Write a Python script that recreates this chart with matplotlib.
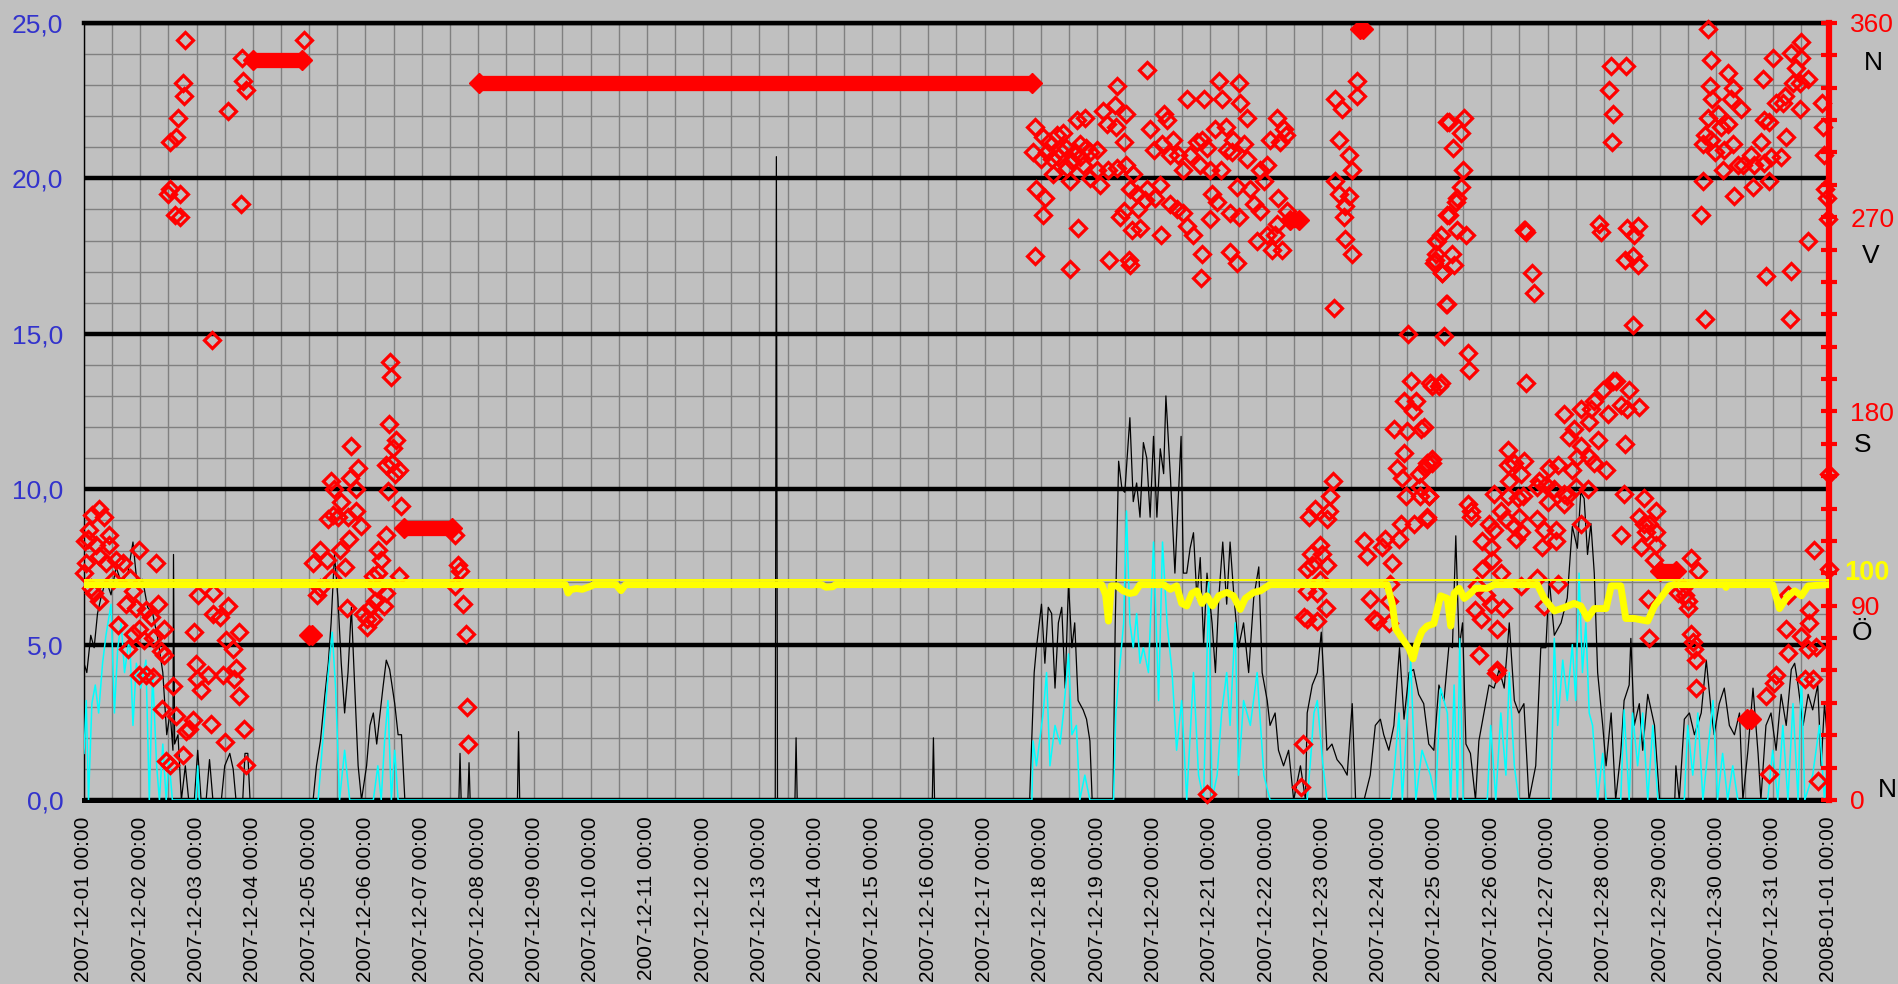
import matplotlib
matplotlib.use('Agg')
import matplotlib.pyplot as plt
from matplotlib.ticker import MultipleLocator, FixedLocator, FuncFormatter
from datetime import datetime, timedelta

plt.rcParams['font.family'] = ['Liberation Sans', 'DejaVu Sans']

# x = days since 2007-12-01 00:00
start = datetime(2007, 12, 1)
date_labels = [(start + timedelta(days=d)).strftime('%Y-%m-%d %H:%M') for d in range(32)]

# gust (m/s), left axis
gust = [(0.00,4.4),(0.05,4.1),(0.12,5.3),(0.18,4.9),(0.24,6.0),(0.30,6.5),(0.39,7.1),(0.48,6.6),
        (0.57,7.5),(0.66,7.0),(0.78,7.3),(0.87,8.3),(0.95,6.8),(1.04,7.1),(1.13,6.2),(1.22,6.0),
        (1.31,5.2),(1.40,4.1),(1.47,2.1),(1.53,2.8),(1.58,1.6),(1.59,7.9),(1.61,1.8),(1.67,2.1),
        (1.73,0),(1.80,1.1),(1.86,0),(1.96,0),(2.02,1.6),(2.08,0),(2.17,0),(2.23,1.3),(2.29,0),
        (2.44,0),(2.50,1.1),(2.59,1.5),(2.65,1.0),(2.70,0),(2.82,0),(2.86,1.5),(2.91,1.5),(2.95,0),
        (4.07,0),(4.13,1.1),(4.20,1.9),(4.28,3.4),(4.34,4.4),(4.39,5.7),(4.45,7.9),(4.51,6.5),
        (4.57,4.4),(4.63,2.8),(4.69,4.1),(4.75,6.2),(4.81,3.6),(4.87,1.1),(4.93,0),(5.02,1.1),
        (5.08,2.4),(5.14,2.8),(5.20,1.8),(5.26,2.8),(5.31,3.6),(5.37,4.5),(5.43,4.2),(5.52,3.1),
        (5.58,2.1),(5.64,2.1),(5.70,0),(6.66,0),(6.68,1.5),(6.70,0),(6.82,0),(6.84,1.2),(6.86,0),
        (7.70,0),(7.72,2.2),(7.74,0),(12.28,0),(12.30,20.7),(12.32,0),(12.63,0),(12.65,2.0),(12.67,0),
        (15.07,0),(15.09,2.0),(15.11,0),(16.80,0),(16.83,1.6),(16.88,4.1),(16.92,4.9),(17.01,6.3),
        (17.07,4.4),(17.13,6.2),(17.19,6.0),(17.25,3.6),(17.31,5.7),(17.37,6.2),(17.43,3.6),(17.49,7.0),
        (17.55,4.9),(17.60,5.7),(17.66,3.2),(17.75,2.9),(17.81,2.6),(17.87,1.9),(17.91,0),(18.28,0),
        (18.32,5.7),(18.38,10.9),(18.44,10.0),(18.49,9.9),(18.58,12.3),(18.64,9.6),(18.70,10.2),
        (18.76,9.1),(18.82,11.5),(18.88,11.0),(18.94,9.1),(19.00,11.7),(19.06,9.1),(19.12,11.3),
        (19.18,10.5),(19.22,13.0),(19.30,10.4),(19.38,7.3),(19.44,9.7),(19.49,11.7),(19.53,7.3),
        (19.59,7.3),(19.65,8.1),(19.71,8.6),(19.77,6.5),(19.83,7.8),(19.89,5.0),(19.95,7.3),
        (20.04,5.7),(20.10,4.1),(20.16,6.5),(20.23,8.3),(20.30,6.3),(20.36,8.3),(20.43,6.5),
        (20.51,4.9),(20.60,5.7),(20.69,4.1),(20.78,6.5),(20.87,7.5),(20.93,4.1),(21.02,3.2),
        (21.07,2.4),(21.16,2.8),(21.22,1.6),(21.31,1.1),(21.40,1.6),(21.49,0),(21.61,1.1),(21.70,0),
        (21.73,2.8),(21.82,3.7),(21.91,4.1),(21.98,5.4),(22.02,4.1),(22.08,1.6),(22.17,1.8),
        (22.26,1.3),(22.35,1.1),(22.44,0.8),(22.53,3.1),(22.59,0),(22.74,0),(22.85,0.8),(22.94,2.4),
        (23.03,2.6),(23.09,2.1),(23.18,1.6),(23.27,2.4),(23.37,4.9),(23.45,2.6),(23.54,4.1),
        (23.62,4.2),(23.71,3.4),(23.80,3.1),(23.89,1.8),(23.98,1.6),(24.07,3.7),(24.16,3.2),
        (24.25,5.0),(24.31,4.9),(24.37,8.5),(24.43,4.9),(24.49,5.7),(24.55,1.8),(24.63,1.5),
        (24.72,0),(24.78,1.9),(24.87,2.8),(24.96,3.7),(25.05,3.6),(25.14,4.2),(25.23,3.6),
        (25.32,5.7),(25.41,3.2),(25.49,2.8),(25.58,3.1),(25.67,0),(25.79,1.1),(25.88,4.9),
        (25.97,4.9),(26.03,7.1),(26.12,5.3),(26.24,5.7),(26.35,6.5),(26.44,8.8),(26.53,8.1),
        (26.59,9.9),(26.65,9.7),(26.71,7.9),(26.77,8.9),(26.83,7.3),(26.89,4.1),(26.98,2.4),
        (27.04,1.1),(27.13,2.8),(27.21,0),(27.30,1.5),(27.36,3.2),(27.45,3.7),(27.48,5.2),
        (27.54,2.4),(27.63,3.1),(27.69,1.6),(27.78,3.4),(27.90,2.4),(27.99,0),(28.26,0),(28.28,1.1),
        (28.34,0),(28.43,2.6),(28.52,2.8),(28.61,2.1),(28.73,2.8),(28.82,4.5),(28.91,2.8),
        (28.96,2.1),(29.05,3.1),(29.14,3.6),(29.23,2.4),(29.32,2.1),(29.41,2.8),(29.47,0),
        (29.56,1.6),(29.65,3.6),(29.74,1.5),(29.79,0),(29.88,2.4),(29.97,2.8),(30.06,1.6),
        (30.15,3.4),(30.24,2.4),(30.33,4.2),(30.39,4.4),(30.45,3.7),(30.54,2.4),(30.63,3.4),
        (30.71,2.9),(30.80,3.7),(30.86,1.1),(30.92,3.1),(30.98,1.8)]

# mean wind (m/s), left axis
mean_wind = [(0.00,1.5),(0.04,3.2),(0.08,0),(0.14,3.1),(0.20,3.7),(0.26,2.8),(0.33,4.4),(0.39,5.3),
        (0.48,6.3),(0.54,2.8),(0.60,4.9),(0.66,5.7),(0.72,4.1),(0.81,5.3),(0.87,2.4),(0.93,4.4),
        (1.01,3.6),(1.10,4.5),(1.16,0),(1.22,4.1),(1.29,1.1),(1.34,0),(1.40,1.8),(1.46,0),(1.51,1.3),
        (1.57,0),(1.99,0),(2.02,1.1),(2.05,0),(4.16,0),(4.25,2.1),(4.34,4.1),(4.41,5.4),(4.47,3.6),
        (4.54,0),(4.63,1.6),(4.72,0),(5.14,0),(5.22,1.1),(5.28,0),(5.34,1.9),(5.40,3.2),(5.46,0),
        (5.52,1.6),(5.58,0),(16.84,0),(16.86,1.9),(16.92,1.1),(17.04,2.8),(17.10,4.1),(17.16,1.1),
        (17.25,2.4),(17.34,1.8),(17.40,2.8),(17.49,4.7),(17.55,2.1),(17.63,2.4),(17.69,0),(17.78,0.8),
        (17.87,0),(18.29,0),(18.33,2.8),(18.39,4.1),(18.47,5.7),(18.52,9.3),(18.58,5.7),(18.64,4.9),
        (18.70,6.0),(18.76,4.4),(18.82,4.9),(18.91,4.1),(19.00,8.3),(19.09,3.2),(19.16,8.3),
        (19.24,5.7),(19.33,4.1),(19.41,1.6),(19.50,3.2),(19.59,0),(19.71,4.1),(19.80,0.8),(19.89,0),
        (19.98,7.0),(20.04,0),(20.13,0.8),(20.21,2.8),(20.30,4.1),(20.36,2.4),(20.45,5.7),(20.51,0.8),
        (20.60,3.2),(20.72,2.4),(20.84,4.1),(20.96,0.8),(21.07,0),(21.73,0),(21.79,1.3),(21.85,2.8),
        (21.91,3.2),(22.00,1.3),(22.08,0),(23.22,0),(23.27,0.8),(23.36,2.8),(23.42,0),(23.57,4.5),
        (23.66,0),(23.77,1.6),(23.92,0.8),(24.01,0),(24.10,3.6),(24.22,2.8),(24.28,0),(24.34,3.7),
        (24.40,0),(24.44,5.2),(24.50,0),(24.93,0),(24.99,2.4),(25.08,0),(25.17,2.8),(25.26,0.8),
        (25.32,4.1),(25.41,1.1),(25.49,0),(26.06,0),(26.12,5.2),(26.18,2.4),(26.27,4.5),(26.35,3.2),
        (26.44,5.0),(26.50,3.2),(26.56,7.3),(26.62,4.1),(26.68,5.7),(26.74,2.8),(26.80,2.4),(26.89,0),
        (26.98,1.5),(27.04,0),(27.30,0),(27.36,2.9),(27.45,0),(27.51,2.8),(27.60,1.1),(27.69,2.8),
        (27.78,0),(27.87,2.4),(27.96,0),(28.43,0),(28.49,2.4),(28.58,0.8),(28.67,2.8),(28.76,0),
        (28.85,1.6),(28.94,3.2),(29.02,0),(29.11,1.5),(29.20,0),(29.29,1.1),(29.38,0),(29.91,0),
        (30.00,1.6),(30.09,0),(30.18,2.4),(30.27,0),(30.36,3.1),(30.45,0),(30.51,4.1),(30.57,0),
        (30.71,0.8),(30.83,2.4),(30.92,0),(30.98,1.6)]

# humidity, plotted on the right (0-360) scale
humidity = [(0,99.8),(8.55,99.8),(8.60,95.9),(8.65,97.5),(8.75,98.0),(8.85,97.6),(9.0,99.0),(9.06,99.8),
        (9.45,99.8),(9.54,97.0),(9.62,99.8),(13.10,99.8),(13.18,98.6),(13.30,98.8),(13.35,99.8),
        (18.08,99.8),(18.15,95),(18.20,82.9),(18.25,99.2),(18.35,99.2),(18.46,96.9),(18.58,95.7),
        (18.67,96.2),(18.76,99.8),(19.18,99.8),(19.30,97.6),(19.41,99.2),(19.50,91.1),(19.59,89.9),
        (19.68,95.7),(19.77,96.9),(19.86,91.1),(19.95,94.6),(20.05,89.9),(20.16,94.6),(20.30,96.2),
        (20.42,94.6),(20.54,88.3),(20.63,93.4),(20.78,96.2),(20.90,96.9),(20.99,98.5),(21.07,99.8),
        (23.15,99.8),(23.24,91.1),(23.30,79.4),(23.42,74.7),(23.54,70.1),(23.61,65.4),(23.68,72.4),
        (23.77,78.2),(23.86,80.6),(23.98,81.7),(24.10,94.6),(24.22,93.4),(24.28,80.6),(24.34,95.7),
        (24.43,98.1),(24.52,93.4),(24.63,95.7),(24.72,98.1),(24.93,98.1),(25.05,99.8),(25.82,99.8),
        (25.94,93.4),(26.12,87.6),(26.30,89.2),(26.47,91.1),(26.59,89.9),(26.71,84.1),(26.83,88.7),
        (27.04,88.7),(27.13,99.2),(27.30,99.2),(27.39,84.1),(27.54,84.1),(27.78,82.9),(27.90,89.9),
        (28.07,95.7),(28.16,99.2),(28.25,99.8),(29.15,99.8),(29.17,98.5),(29.20,99.8),(30.0,99.8),
        (30.12,88.7),(30.27,94.6),(30.39,96.9),(30.51,94.6),(30.63,99.2),(31.0,99.8)]
humidity_ref = 101.8

# wind direction (degrees), right axis
direction = [
    (0.07,121),(0.27,135),(0.15,132),(0.36,131),(0.08,125),(0.45,123),(0.02,120),(0.21,118),(0.45,118),
    (0.04,110),(0.27,113),(0.39,110),(0.57,111),(0.69,110),(0.98,116),(1.28,110),(0.0,105),(0.12,98),
    (0.18,96),(0.27,92),(0.51,102),(0.81,103),(0.87,97),(0.75,91),(0.93,89),(1.10,88),(1.32,91),
    (1.19,85),(0.98,79),(0.87,77),(0.60,81),(0.78,70),(1.07,74),(1.22,75),(1.43,79),(1.37,69),
    (1.43,67),(0.98,58),(1.10,58),(1.22,57),(1.58,53),(1.39,42),(1.64,39),(1.76,21),(1.46,18),
    (1.52,16),(2.02,95),(2.29,96),(1.96,78),(1.99,63),(2.0,56),(2.08,51),(2.20,58),(2.26,35),
    (1.93,37),(1.81,32),(1.87,33),(2.29,86),(2.41,85),(2.56,90),(2.53,74),(2.65,70),(2.76,78),
    (2.70,61),(2.47,58),(2.67,56),(2.76,48),(2.50,27),(2.85,33),(2.88,16),
    (1.79,352),(1.76,332),(1.77,326),(1.67,316),(1.64,307),(1.52,305),(1.49,281),(1.53,283),
    (1.71,281),(1.61,271),(1.70,270),(2.27,213),(2.56,319),(2.81,344),(2.82,333),(2.88,329),
    (2.79,276),(3.91,352),
    (5.43,203),(5.46,196),(5.42,174),(5.54,167),(5.49,163),(5.36,155),(5.48,156),(5.60,153),
    (5.52,151),(5.40,143),(5.63,136),(5.36,123),(5.60,104),(5.23,116),(5.28,111),(5.22,105),
    (5.14,104),(5.21,98),(5.36,96),(5.33,90),(5.17,92),(5.08,89),(4.96,86),(5.02,84),(5.14,84),
    (5.03,80),(4.75,164),(4.86,154),(4.72,149),(4.38,148),(4.45,144),(4.84,144),(4.57,138),
    (4.83,134),(4.42,132),(4.34,130),(4.51,131),(4.69,131),(4.92,127),(4.71,121),(4.54,116),
    (4.19,116),(4.07,110),(4.31,111),(4.63,108),(4.68,89),(4.14,95),(4.19,98),(4.40,103),
    (6.59,123),(6.65,109),(6.68,106),(6.59,99),(6.73,91),(6.78,77),(6.80,43),(6.83,26),
    (16.89,312),(17.04,307),(16.86,300),(17.01,297),(16.92,283),(17.07,279),(17.04,271),(16.89,252),
    (17.28,308),(17.40,309),(17.34,301),(17.19,297),(17.46,293),(17.22,290),(17.52,287),(17.64,315),
    (17.78,316),(17.69,304),(17.87,300),(17.75,294),(17.99,301),(18.11,319),(18.32,322),(18.36,331),
    (18.17,313),(18.34,312),(18.20,292),(18.35,293),(18.52,318),(18.47,305),(18.52,294),(18.05,285),
    (17.99,292),(17.87,288),(18.64,290),(18.58,283),(18.47,273),(18.41,270),(18.61,264),(18.76,265),
    (17.66,265),(17.52,246),(18.21,250),(18.57,250),(18.58,248),(18.88,338),(18.94,311),(18.88,283),
    (18.73,274),(18.70,281),(18.85,278),(19.03,279),(19.00,301),(19.18,318),(19.24,315),(19.15,304),
    (19.30,299),(19.35,306),(19.44,299),(19.53,292),(19.12,285),(19.30,276),(19.42,274),(19.13,262),
    (19.59,325),(19.53,272),(19.59,266),(19.71,262),(19.65,299),(19.77,305),(19.89,325),(19.86,306),
    (19.95,302),(19.83,294),(20.01,292),(20.10,311),(20.16,333),(20.22,325),(20.28,312),(20.30,301),
    (20.19,292),(20.04,281),(20.13,277),(20.01,269),(19.87,253),(19.85,242),(20.35,254),(20.49,249),
    (20.51,332),(20.54,323),(20.42,306),(20.60,304),(20.39,300),(20.66,297),(20.48,284),(20.72,283),
    (20.66,316),(20.36,272),(20.51,270),(20.78,276),(20.90,273),(20.96,287),(21.01,294),(20.90,292),
    (21.07,306),(21.19,316),(21.31,311),(21.25,305),(21.36,308),(21.22,279),(21.37,273),(21.19,267),
    (21.02,262),(21.16,262),(21.10,255),(21.29,255),(20.84,259),(17.10,300),(17.15,305),(17.30,298),
    (17.45,302),(17.55,296),(17.60,300),(17.70,298),(17.80,302),
    (22.23,325),(22.35,320),(22.29,306),(22.47,299),(22.53,292),(22.23,287),(22.29,281),(22.47,280),
    (22.41,275),(22.38,270),(22.40,260),(22.53,253),(22.21,228),(22.61,333),(22.61,326),
    (21.77,131),(21.87,135),(21.96,118),(21.79,114),(21.99,114),(22.08,109),(21.72,107),(21.82,109),
    (21.96,102),(21.73,97),(21.91,96),(22.07,89),(21.67,85),(21.73,84),(21.90,83),(22.19,148),
    (22.14,141),(22.11,134),(22.08,130),(21.65,26),(21.62,6),(19.95,3),
    (22.74,120),(22.79,113),(22.85,93),(22.91,84),(22.97,83),(23.06,117),(23.12,121),(23.24,110),
    (23.21,100),(23.18,92),(23.18,82),(23.27,172),(23.42,149),(23.33,154),(23.45,161),(23.51,171),
    (23.57,194),(23.45,185),(23.67,185),(23.61,180),(23.75,172),(23.48,141),(23.63,128),(23.39,128),
    (23.36,121),(23.72,151),(23.83,154),(23.95,158),(23.86,131),(23.89,141),(23.74,145),(23.52,216),
    (23.92,193),(24.10,193),(24.0,250),(24.01,259),(24.13,244),(24.19,230),(24.16,215),(24.21,271),
    (24.22,314),
    (24.25,314),(24.52,316),(24.46,309),(24.32,302),(24.49,292),(24.46,284),(24.40,279),(24.37,277),
    (24.25,271),(24.40,264),(24.55,262),(24.10,262),(24.04,259),(24.01,253),(24.31,253),(24.34,248),
    (24.13,244),(23.98,249),(24.22,230),(24.58,207),(24.61,199),(23.95,192),(24.07,192),(23.80,173),
    (23.86,156),(23.95,156),(23.74,141),(23.89,141),(23.86,130),
    (25.58,264),(25.60,264),(25.62,263),(25.73,244),(25.76,235),(25.61,193),
    (27.13,340),(27.39,340),(27.10,329),(27.16,318),(27.14,305),(26.92,267),(26.95,263),(27.42,265),
    (27.60,266),(27.54,262),(27.37,250),(27.51,252),(27.60,248),(27.52,220),
    (28.85,357),(28.91,343),(28.88,331),(28.93,325),(29.20,337),(29.29,330),(29.44,320),(29.26,325),
    (28.85,316),(29.02,318),(29.08,312),(29.20,313),(28.79,308),(28.91,306),(28.76,304),(28.97,300),
    (29.14,301),(29.29,304),(29.38,294),(29.47,294),(29.62,299),(29.79,305),(29.67,294),(29.85,295),
    (29.97,298),(30.14,298),(30.24,307),(29.85,315),(29.94,314),(30.06,323),(30.18,323),(30.21,326),
    (30.36,332),(30.48,332),(30.63,334),(30.48,320),(30.42,339),(30.51,344),(30.51,351),(30.33,346),
    (30.00,344),(29.82,334),(30.87,323),(30.89,312),(30.91,299),(30.93,283),(30.96,279),(30.99,269),
    (29.11,292),(29.32,280),(29.65,284),(29.94,287),(28.76,287),(28.73,271),(28.79,223),(29.88,243),
    (30.33,245),(30.30,223),(30.63,259),
    (24.58,137),(24.64,134),(24.64,131),(25.05,142),(24.96,128),(25.05,125),(24.84,120),(24.99,117),
    (25.02,111),(24.84,107),(25.17,105),(24.75,99),(24.90,95),(24.72,88),(24.81,84),(24.99,91),
    (25.20,89),(25.11,79),(24.78,67),(25.11,60),(25.30,162),(25.41,156),(25.29,155),(25.59,157),
    (25.31,148),(25.53,151),(25.29,141),(25.47,140),(25.56,141),(25.17,134),(25.26,130),(25.50,131),
    (25.41,127),(25.53,124),(25.44,121),(25.53,99),(25.82,145),(25.85,148),(26.03,154),(26.18,155),
    (25.97,146),(26.12,144),(26.0,138),(26.30,142),(25.82,130),(25.94,125),(26.15,125),(26.15,120),
    (25.91,117),(25.82,103),(26.18,100),(25.94,90),(26.30,179),(26.38,168),(26.47,172),(26.59,181),
    (26.77,181),(26.83,185),(26.98,190),(27.16,194),(27.22,194),(27.45,190),(27.30,183),(27.42,181),
    (27.63,182),(27.07,179),(26.74,175),(26.59,164),(26.74,159),(26.89,167),(26.83,156),(27.04,153),
    (26.53,159),(26.44,153),(26.50,145),(26.35,141),(26.71,144),(27.37,165),(26.30,137),(26.59,128),
    (27.36,142),(27.31,123),(27.72,140),(27.63,131),(27.72,128),(27.93,134),(27.81,128),(27.75,124),
    (27.93,124),(27.66,117),(27.93,118),(27.90,111),(27.78,93),(27.81,75),(28.55,112),(28.67,106),
    (28.31,96),(28.49,89),(28.55,77),(28.61,70),(28.64,65),(28.64,52),(28.40,98),(28.45,95),
    (28.50,92),(28.58,73),(30.74,116),(30.65,88),(30.27,95),(30.24,79),(30.51,76),(30.65,82),
    (30.63,70),(30.77,71),(30.27,68),(30.06,58),(30.03,54),(29.88,48),(30.57,56),(30.71,56),
    (29.94,12),(30.80,9),(25.08,59),(31.0,151),(31.0,107)]

# calm spells with constant direction: first and last reading (day), degrees
band_start = [3.00, 7.02, 5.68, 21.43, 22.66, 27.99, 4.00, 29.55]
band_end = [3.88, 16.84, 6.53, 21.58, 22.72, 28.28, 4.05, 29.62]
band_deg = [343, 332, 126, 268.5, 357, 106, 76.5, 37.5]

fig = plt.figure(figsize=(18.99, 9.84), dpi=100)
fig.patch.set_facecolor('#c0c0c0')
ax = fig.add_axes([84/1899, 1-800/984, (1829-84)/1899, (800-23)/984])
ax.set_facecolor('#c0c0c0')
ax.set_xlim(0, 31)
ax.set_ylim(0, 25)

ax.set_xticks(range(32))
ax.set_xticklabels(date_labels, rotation=90)
ax.xaxis.set_minor_locator(MultipleLocator(0.5))
ax.yaxis.set_major_locator(MultipleLocator(5))
ax.yaxis.set_minor_locator(MultipleLocator(1))
ax.yaxis.set_major_formatter(FuncFormatter(lambda v, p: f'{v:.1f}'.replace('.', ',')))
ax.grid(which='minor', color='#808080', lw=1.0)
ax.grid(which='major', axis='x', color='#808080', lw=1.0)
ax.grid(which='major', axis='y', color='black', lw=3.2)
ax.set_axisbelow(True)
ax.tick_params(which='both', length=0)
ax.tick_params(axis='x', pad=12, labelsize=15)
ax.tick_params(axis='y', pad=15, labelsize=19, labelcolor='#3333cc')
ax.spines['left'].set_linewidth(1.0)
ax.spines['bottom'].set_linewidth(3.6)
ax.spines['top'].set_linewidth(3.2)
ax.spines['right'].set_visible(False)

gd, gv = zip(*gust)
md, mv = zip(*mean_wind)
ax.plot(gd, gv, color='black', lw=0.9, zorder=2)
ax.plot(md, mv, color='#00ffff', lw=1.1, zorder=3)

ax2 = ax.twinx()
ax2.set_ylim(0, 360)
for s in ['left', 'top', 'bottom']:
    ax2.spines[s].set_visible(False)
ax2.spines['right'].set_color('red')
ax2.spines['right'].set_linewidth(4.5)
ax2.yaxis.set_major_locator(FixedLocator([0, 90, 180, 270, 360]))
ax2.yaxis.set_minor_locator(MultipleLocator(15))
ax2.tick_params(axis='y', which='both', direction='inout', length=12, width=3,
                color='red', labelcolor='red', labelsize=19, pad=9.4)

dd, dv = zip(*direction)
ax2.plot(dd, dv, ls='none', marker='D', ms=8.5, mfc='none', mec='red', mew=2.3,
         clip_on=False, zorder=2)
for s, e, d in zip(band_start, band_end, band_deg):
    ax2.plot([s, e], [d, d], color='red', lw=11, solid_capstyle='butt', zorder=2)
    ax2.plot([s, e], [d, d], ls='none', marker='D', ms=10, color='red', zorder=2)

ax2.axhline(humidity_ref, color='#ffff00', lw=1.4, zorder=3)
hd, hv = zip(*humidity)
ax2.plot(hd, hv, color='#ffff00', lw=5, zorder=4, solid_joinstyle='round')

# compass letters beside the right axis
for txt, x, y in [('N', 1873, 63), ('V', 1871, 256), ('S', 1863, 445), ('Ö', 1862, 633), ('N', 1887, 790)]:
    fig.text(x/1899, 1-y/984, txt, ha='center', va='center', fontsize=19, color='black')
fig.text(1867/1899, 1-573/984, '100', ha='center', va='center', fontsize=19.5,
         color='#ffff00', fontweight='bold')

fig.savefig('out.png', dpi=100, facecolor=fig.get_facecolor())
